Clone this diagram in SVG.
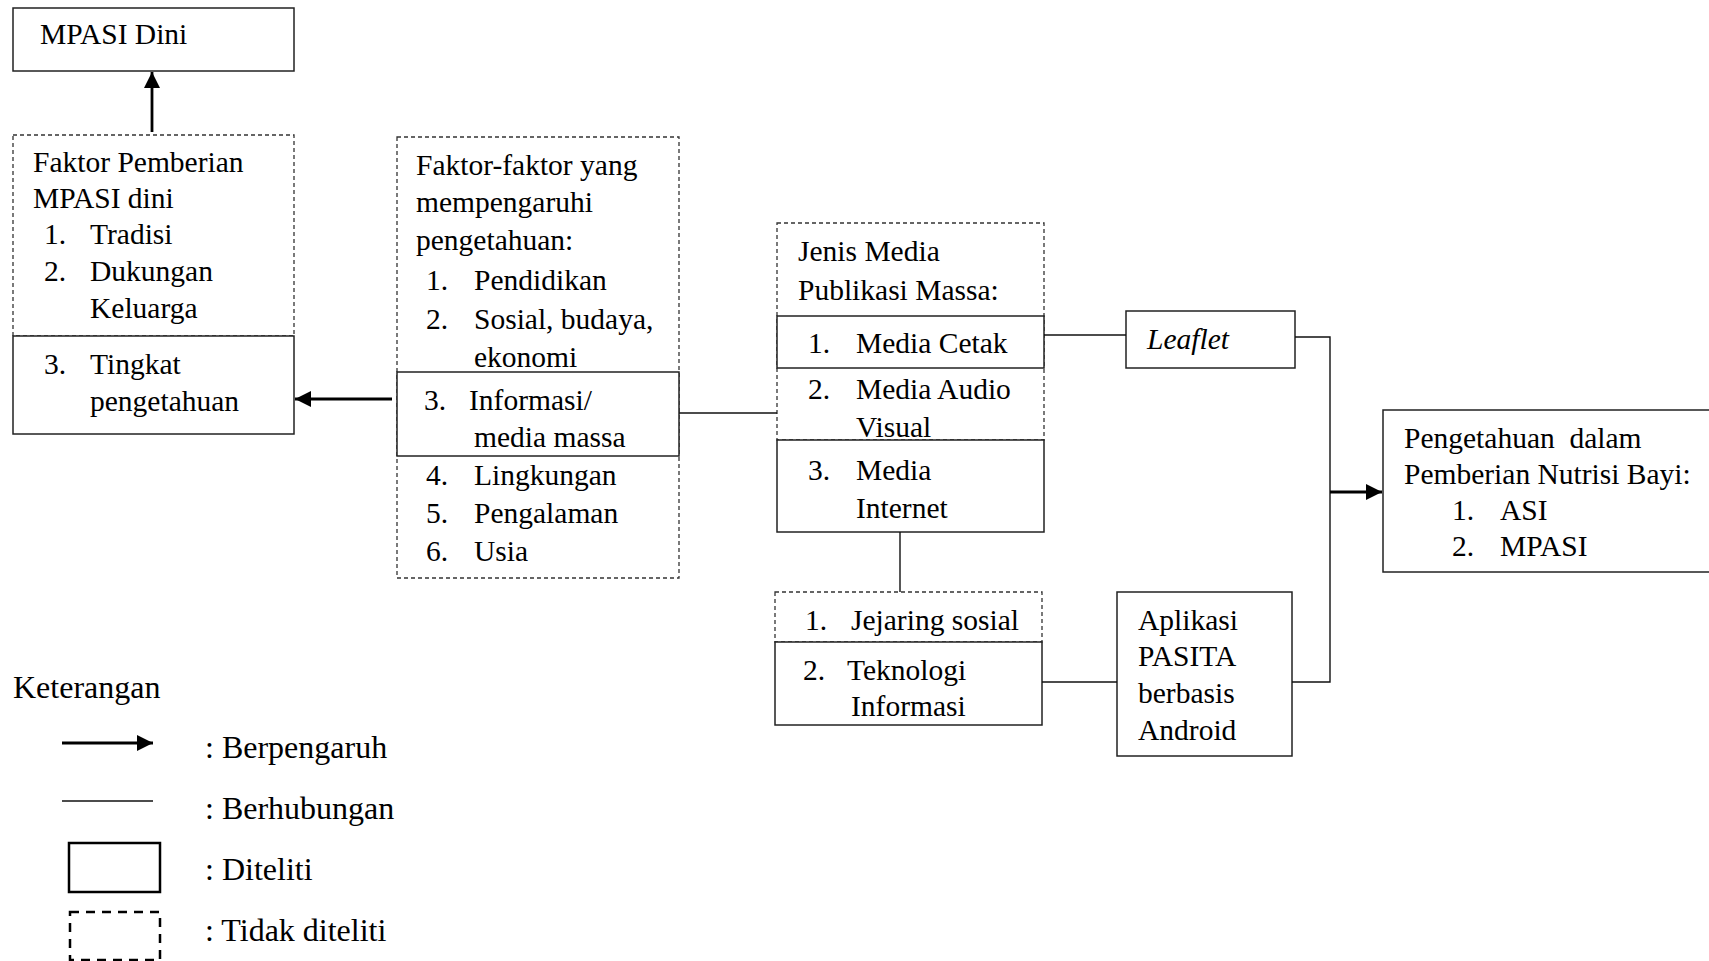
<svg xmlns="http://www.w3.org/2000/svg" width="1709" height="961" viewBox="0 0 1709 961">
<defs>
<style>
text{font-family:"Liberation Serif","Times New Roman",serif;font-size:29.5px;fill:#000}
.it{font-style:italic}
.lg{font-size:32px}
.solid{fill:#fff;stroke:#222;stroke-width:1.5}
.dash{fill:#fff;stroke:#333;stroke-width:1.3;stroke-dasharray:4 3}
.conn{fill:none;stroke:#111;stroke-width:1.4}
.arr{fill:none;stroke:#000;stroke-width:2.8}
</style>
<marker id="ah" markerWidth="16" markerHeight="16" refX="16" refY="8" orient="auto" markerUnits="userSpaceOnUse">
<path d="M0,0 L16,8 L0,16 Z" fill="#000"/>
</marker>
</defs>
<rect width="1709" height="961" fill="#fff"/>

<g id="mpasi-dini">
<rect class="solid" x="13" y="8" width="281" height="63"/>
<text x="40" y="44">MPASI Dini</text>
</g>

<g id="faktor-pemberian">
<rect class="dash" x="13" y="135" width="281" height="201"/>
<rect class="solid" x="13" y="336" width="281" height="98"/>
<text x="33" y="172">Faktor Pemberian</text>
<text x="33" y="208">MPASI dini</text>
<text x="44" y="244">1.</text><text x="90" y="244">Tradisi</text>
<text x="44" y="281">2.</text><text x="90" y="281">Dukungan</text>
<text x="90" y="318">Keluarga</text>
<text x="44" y="374">3.</text><text x="90" y="374">Tingkat</text>
<text x="90" y="411">pengetahuan</text>
</g>

<g id="faktor-pengetahuan">
<rect class="dash" x="397" y="137" width="282" height="441"/>
<rect class="solid" x="397" y="372" width="282" height="84"/>
<text x="416" y="175">Faktor-faktor yang</text>
<text x="416" y="212">mempengaruhi</text>
<text x="416" y="250">pengetahuan:</text>
<text x="426" y="290">1.</text><text x="474" y="290">Pendidikan</text>
<text x="426" y="329">2.</text><text x="474" y="329">Sosial, budaya,</text>
<text x="474" y="367">ekonomi</text>
<text x="424" y="410">3.</text><text x="469" y="410">Informasi/</text>
<text x="474" y="447">media massa</text>
<text x="426" y="485">4.</text><text x="474" y="485">Lingkungan</text>
<text x="426" y="523">5.</text><text x="474" y="523">Pengalaman</text>
<text x="426" y="561">6.</text><text x="474" y="561">Usia</text>
</g>

<g id="jenis-media">
<rect class="dash" x="777" y="223" width="267" height="217"/>
<rect class="solid" x="777" y="316" width="267" height="52"/>
<rect class="solid" x="777" y="440" width="267" height="92"/>
<text x="798" y="261">Jenis Media</text>
<text x="798" y="300">Publikasi Massa:</text>
<text x="808" y="353">1.</text><text x="856" y="353">Media Cetak</text>
<text x="808" y="399">2.</text><text x="856" y="399">Media Audio</text>
<text x="856" y="437">Visual</text>
<text x="808" y="480">3.</text><text x="856" y="480">Media</text>
<text x="856" y="518">Internet</text>
</g>

<g id="leaflet">
<rect class="solid" x="1126" y="311" width="169" height="57"/>
<text class="it" x="1147" y="349">Leaflet</text>
</g>

<g id="internet-media">
<rect class="dash" x="775" y="592" width="267" height="50"/>
<rect class="solid" x="775" y="642" width="267" height="83"/>
<text x="805" y="630">1.</text><text x="851" y="630">Jejaring sosial</text>
<text x="803" y="680">2.</text><text x="847" y="680">Teknologi</text>
<text x="851" y="716">Informasi</text>
</g>

<g id="aplikasi">
<rect class="solid" x="1117" y="592" width="175" height="164"/>
<text x="1138" y="630">Aplikasi</text>
<text x="1138" y="666">PASITA</text>
<text x="1138" y="703">berbasis</text>
<text x="1138" y="740">Android</text>
</g>

<g id="pengetahuan-nutrisi">
<rect class="solid" x="1383" y="410" width="340" height="162"/>
<text x="1404" y="448" xml:space="preserve">Pengetahuan  dalam</text>
<text x="1404" y="484">Pemberian Nutrisi Bayi:</text>
<text x="1452" y="520">1.</text><text x="1500" y="520">ASI</text>
<text x="1452" y="556">2.</text><text x="1500" y="556">MPASI</text>
</g>

<g id="connectors">
<line class="arr" x1="152" y1="132" x2="152" y2="72" marker-end="url(#ah)"/>
<line class="arr" x1="392" y1="399" x2="295" y2="399" marker-end="url(#ah)"/>
<line class="conn" x1="679" y1="413" x2="777" y2="413"/>
<line class="conn" x1="1044" y1="335" x2="1126" y2="335"/>
<polyline class="conn" points="1295,337 1330,337 1330,682 1292,682"/>
<line class="arr" x1="1330" y1="492" x2="1382" y2="492" marker-end="url(#ah)"/>
<line class="conn" x1="900" y1="532" x2="900" y2="592"/>
<line class="conn" x1="1042" y1="682" x2="1117" y2="682"/>
</g>

<g id="legend">
<text class="lg" x="13" y="698">Keterangan</text>
<line class="arr" x1="62" y1="743" x2="153" y2="743" marker-end="url(#ah)"/>
<text class="lg" x="205" y="758">: Berpengaruh</text>
<line class="conn" x1="62" y1="801" x2="153" y2="801"/>
<text class="lg" x="205" y="819">: Berhubungan</text>
<rect x="69" y="843" width="91" height="49" fill="#fff" stroke="#000" stroke-width="2.5"/>
<text class="lg" x="205" y="880">: Diteliti</text>
<rect x="70" y="912" width="90" height="48" fill="#fff" stroke="#000" stroke-width="2.5" stroke-dasharray="9 7"/>
<text class="lg" x="205" y="941">: Tidak diteliti</text>
</g>
</svg>
